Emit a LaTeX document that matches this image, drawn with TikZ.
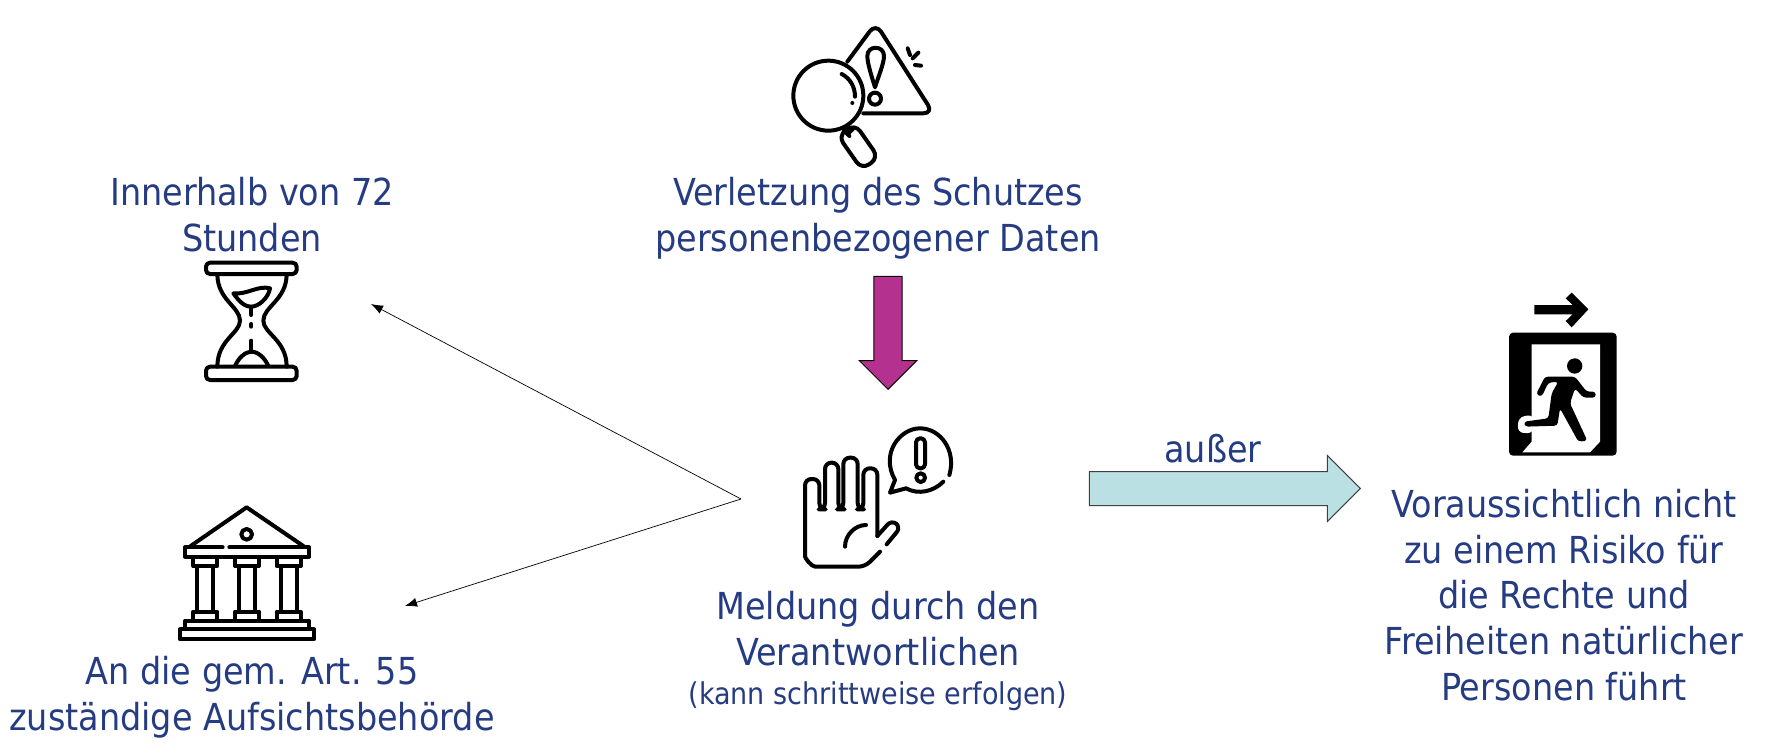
\documentclass[tikz,border=0pt]{standalone}
\usepackage{fontspec}
\setmainfont{DejaVu Sans Condensed}
\usetikzlibrary{arrows.meta}
\usetikzlibrary{shapes.arrows}
\definecolor{textblue}{RGB}{38,60,130}
\definecolor{plum}{RGB}{181,49,143}
\definecolor{paleteal}{RGB}{187,224,227}
\tikzset{
    label/.style={
           text=textblue,
           align=center,
           font=\fontsize{18.6}{22.9}\selectfont,
           inner sep=0pt,
           },
}
\tikzset{
    icon/.style={
           draw=black,
           line width=2pt,
           line cap=round,
           line join=round,
           },
}
\tikzset{
    thinarrow/.style={
           draw=black,
           line width=0.35pt,
           -{Latex[length=6pt,width=4.5pt]},
           },
}
\tikzset{
    blockarrow/.style={
           single arrow,
           draw=black!75,
           line width=0.5pt,
           inner sep=0pt,
           single arrow tip angle=90,
           single arrow head indent=0pt,
           anchor=tip,
           },
}

\begin{document}
\begin{tikzpicture}[x=0.5pt,y=-0.5pt]
\useasboundingbox (0,0) rectangle (1765,754);
% texts
\node[label](limit) at (252,215){Innerhalb von 72\\Stunden};
\node[label](breach) at (878,218){Verletzung des Schutzes\\personenbezogener Daten};
\node[label](notice) at (878,651){Meldung durch den\\Verantwortlichen\\[-3pt]{\fontsize{15}{19}\selectfont (kann schrittweise erfolgen)}};
\node[label](authority) at (252,697){An die gem. Art. 55\\zuständige Aufsichtsbehörde};
\node[label](exception) at (1564,595){Voraussichtlich nicht\\zu einem Risiko für\\die Rechte und\\Freiheiten natürlicher\\Personen führt};
\node[label](except) at (1213,449){außer};
% block arrows
\node[blockarrow,fill=plum,draw=black,rotate=-90,minimum height=56.5pt,single arrow head extend=7.25pt,inner ysep=6.8pt](down) at (888,390){};
\node[blockarrow,fill=paleteal,minimum height=135.5pt,single arrow head extend=8pt,inner ysep=8.25pt](right) at (1361,488.5){};
% thin arrows
\coordinate (fork) at (741,499);
\coordinate (toLimit) at (371,304);
\coordinate (toAuthority) at (405,606);
\draw[thinarrow] (fork) -- (toLimit);
\draw[thinarrow] (fork) -- (toAuthority);
% magnifier and warning sign
\begin{scope}[shift={(760,0)},scale=1/3]
\draw[icon,rounded corners=5pt] (262,185) -- (347,70) -- (520,340) -- (310,340);
\draw[icon] (205,287) circle (105);
\draw[icon] (245,222) .. controls (270,235) and (285,260) .. (285,290);
\fill (277,309) circle (6);
\draw[icon] (252,392) -- (268,408);
\draw[icon] (280,385) -- (263,402);
\draw[icon,rounded corners=4.5pt,shift={(295,440)},rotate=-55] (-62,-31) rectangle (62,31);
\draw[icon] (345,262) .. controls (335,230) and (322,190) .. (322,168) .. controls (322,135) and (372,135) .. (372,168) .. controls (372,190) and (355,230) .. (345,262) -- cycle;
\draw[icon] (345,296) circle (18);
\draw[icon] (443,145) -- (450,165);
\draw[icon] (475,158) -- (458,175);
\draw[icon] (465,195) -- (483,197);
\end{scope}
% hourglass
\begin{scope}[shift={(170,250)},scale=1/3]
\draw[icon,rounded corners=2pt] (108,38) rectangle (380,72);
\draw[icon,rounded corners=2pt] (108,350) rectangle (380,390);
\draw[icon] (142,72) .. controls (142,150) and (210,170) .. (210,212) .. controls (210,250) and (142,270) .. (142,350);
\draw[icon] (350,72) .. controls (350,150) and (280,170) .. (280,212) .. controls (280,250) and (350,270) .. (350,350);
\draw[icon] (190,130) .. controls (230,135) and (265,105) .. (300,115) .. controls (295,145) and (265,170) .. (244,170) .. controls (220,170) and (205,150) .. (190,130) -- cycle;
\draw[icon] (244,170) -- (244,195);
\draw[icon] (244,222) -- (244,230);
\draw[icon] (244,272) -- (244,305);
\draw[icon] (195,348) .. controls (205,325) and (225,305) .. (244,305) .. controls (265,305) and (285,325) .. (295,348);
\end{scope}
% temple
\begin{scope}[shift={(160,490)},scale=1/3]
\draw[icon] (92,168) -- (260,52) -- (430,168);
\draw[icon] (188,172) -- (75,172) -- (75,200) -- (447,200) -- (447,172) -- (208,172);
\draw[icon] (260,133) circle (16);
\foreach \colx in {136,261,386}{
  \draw[icon] (\colx-36,200) rectangle (\colx+36,228);
  \draw[icon] (\colx-24,228) -- (\colx-24,365);
  \draw[icon] (\colx+24,228) -- (\colx+24,365);
  \draw[icon] (\colx-36,365) rectangle (\colx+36,392);
}
\draw[icon] (75,392) rectangle (447,418);
\draw[icon] (60,418) rectangle (462,448);
\end{scope}
% hand with speech bubble
\begin{scope}[shift={(780,410)},scale=1/3]
\draw[icon,rounded corners=3.2pt] (300,425) -- (255,470) -- (125,470) .. controls (95,470) and (75,445) .. (75,420) -- (75,207) -- (118,207) -- (118,298) -- (135,298) -- (135,158) -- (175,158) -- (175,298) -- (190,298) -- (190,143) -- (233,143) -- (233,298) -- (250,298) -- (250,175) -- (292,175) -- (292,378);
\draw[icon,rounded corners=3pt] (292,378) -- (335,330) -- (362,352) -- (320,403);
\draw[icon] (195,410) .. controls (195,375) and (225,345) .. (258,345);
\draw[icon] (508,195) .. controls (530,120) and (480,55) .. (420,55) .. controls (360,55) and (300,130) .. (345,210) -- (330,248) -- (378,235) .. controls (415,255) and (460,245) .. (490,215);
\draw[icon,rounded corners=2pt] (408,85) rectangle (435,175);
\draw[icon] (422,203) circle (13);
\end{scope}
% exit sign
\begin{scope}[shift={(1480,280)},scale=1/3]
\fill (163,75) -- (278,75) -- (257,55) -- (275,38) -- (325,88) -- (275,142) -- (257,123) -- (278,103) -- (163,103) -- cycle;
\fill[rounded corners=2pt] (87,158) rectangle (410,527);
\fill[white] (155,193) -- (360,193) -- (360,485) -- (330,517) -- (127,517) -- (155,485) -- cycle;
\fill[white,rounded corners=3pt] (160,403) -- (115,412) -- (113,458) -- (160,460) -- cycle;
\fill (284,258) circle (23);
\fill[rounded corners=1.5pt] (195,290) -- (285,290) -- (320,335) -- (347,335) -- (347,353) -- (310,353) -- (285,325) -- (270,370) -- (322,482) -- (295,485) -- (240,385) -- (232,437) -- (135,440) -- (132,425) -- (205,415) -- (215,340) -- (235,305) -- (205,308) -- (185,350) -- (168,343) -- cycle;
\end{scope}
\end{tikzpicture}
\end{document}
